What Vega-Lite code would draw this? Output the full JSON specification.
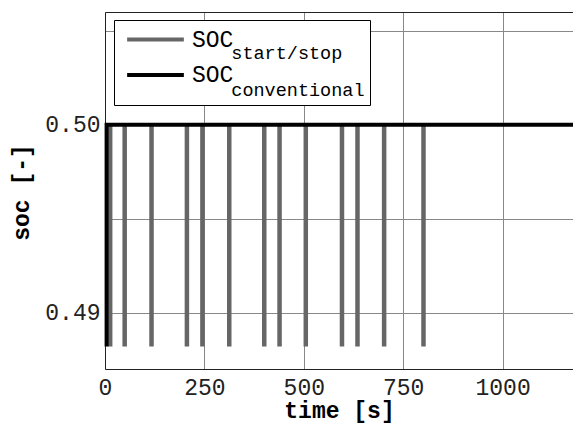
{
  "$schema": "https://vega.github.io/schema/vega-lite/v6.json",
  "width": 468,
  "height": 357,
  "autosize": {"type": "none"},
  "padding": {"left": 105, "top": 12, "right": 0, "bottom": 55},
  "background": "white",
  "view": {"stroke": null},
  "config": {
    "axis": {
      "labelFont": "Liberation Mono",
      "labelFontSize": 23,
      "labelColor": "#222",
      "titleFont": "Liberation Mono",
      "titleFontSize": 23,
      "titleFontWeight": "bold",
      "titleColor": "#000",
      "gridColor": "#888",
      "gridOpacity": 1,
      "gridWidth": 1,
      "ticks": false,
      "tickSize": 0,
      "domainColor": "#222",
      "domainWidth": 1
    }
  },
  "datasets": {
    "startstop": [
      {"time": 13, "soc_max": 0.5, "soc_min": 0.4882},
      {"time": 49.5, "soc_max": 0.5, "soc_min": 0.4882},
      {"time": 117, "soc_max": 0.5, "soc_min": 0.4882},
      {"time": 206, "soc_max": 0.5, "soc_min": 0.4882},
      {"time": 245, "soc_max": 0.5, "soc_min": 0.4882},
      {"time": 312.5, "soc_max": 0.5, "soc_min": 0.4882},
      {"time": 400.5, "soc_max": 0.5, "soc_min": 0.4882},
      {"time": 439, "soc_max": 0.5, "soc_min": 0.4882},
      {"time": 505, "soc_max": 0.5, "soc_min": 0.4882},
      {"time": 596, "soc_max": 0.5, "soc_min": 0.4882},
      {"time": 635, "soc_max": 0.5, "soc_min": 0.4882},
      {"time": 702, "soc_max": 0.5, "soc_min": 0.4882},
      {"time": 801, "soc_max": 0.5, "soc_min": 0.4882}
    ],
    "conventional": [
      {"i": 0, "time": 4, "soc": 0.4882},
      {"i": 1, "time": 4, "soc": 0.5},
      {"i": 2, "time": 1177, "soc": 0.5}
    ]
  },
  "resolve": {"axis": {"x": "independent"}},
  "layer": [
    {
      "data": {"name": "startstop"},
      "transform": [
        {"calculate": "'SOC_start/stop'", "as": "series"},
        {"calculate": "'start/stop'", "as": "sub"}
      ],
      "mark": {"type": "rule", "strokeWidth": 4.5, "strokeCap": "butt"},
      "encoding": {
        "x": {
          "field": "time",
          "type": "quantitative",
          "scale": {"domain": [0, 1177], "nice": false, "zero": false},
          "axis": {
            "title": "time [s]",
            "values": [0, 250, 500, 750, 1000],
            "format": "d",
            "grid": true,
            "labelPadding": 7,
            "titleBaseline": "alphabetic",
            "titleY": 48.5,
            "labelFlush": false,
            "labelOverlap": false
          }
        },
        "y": {
          "field": "soc_max",
          "type": "quantitative",
          "scale": {"domain": [0.487, 0.506], "nice": false, "zero": false},
          "axis": {
            "title": "soc [-]",
            "values": [0.49, 0.495, 0.5, 0.505],
            "labelExpr": "datum.value == 0.49 || datum.value == 0.5 ? format(datum.value, '.2f') : ''",
            "grid": true,
            "labelPadding": 5,
            "titleX": -77,
            "titleY": 180,
            "titleBaseline": "alphabetic",
            "labelFlush": false,
            "labelOverlap": false
          }
        },
        "y2": {"field": "soc_min"},
        "color": {
          "field": "series",
          "type": "nominal",
          "scale": {"domain": ["SOC_start/stop", "SOC_conventional"], "range": ["#666666", "#000000"]},
          "legend": {
            "orient": "none",
            "legendX": 37,
            "legendY": 14,
            "title": null,
            "symbolType": "M-2.5,0H2.5",
            "symbolSize": 515,
            "symbolStrokeWidth": 4,
            "labelExpr": "'SOC'",
            "labelFont": "Liberation Mono",
            "labelFontSize": 23,
            "labelColor": "#000",
            "labelOffset": 23,
            "rowPadding": 9.5,
            "padding": 0,
            "zindex": 2
          }
        },
        "opacity": {
          "field": "sub",
          "type": "nominal",
          "scale": {"domain": ["start/stop", "conventional"], "range": [1, 1]},
          "legend": {
            "orient": "none",
            "legendX": 9,
            "legendY": 8,
            "title": null,
            "symbolType": "M0,0",
            "symbolSize": 1310,
            "symbolStrokeWidth": 0,
            "symbolFillColor": "transparent",
            "symbolStrokeColor": "transparent",
            "labelFont": "Liberation Mono",
            "labelFontSize": 18.5,
            "labelColor": "#000",
            "labelBaseline": "top",
            "labelOffset": 75.3,
            "rowPadding": 0.7,
            "padding": 5,
            "strokeColor": "#000",
            "fillColor": "white",
            "zindex": 1
          }
        }
      }
    },
    {
      "data": {"name": "conventional"},
      "transform": [
        {"calculate": "'SOC_conventional'", "as": "series"},
        {"calculate": "'conventional'", "as": "sub"}
      ],
      "mark": {"type": "line", "strokeWidth": 4, "strokeCap": "butt", "strokeJoin": "miter"},
      "encoding": {
        "x": {
          "field": "time",
          "type": "quantitative",
          "axis": {
            "orient": "top",
            "title": null,
            "labels": false,
            "grid": false,
            "ticks": false,
            "domainColor": "#222"
          }
        },
        "y": {"field": "soc", "type": "quantitative"},
        "order": {"field": "i", "type": "quantitative"},
        "color": {"field": "series", "type": "nominal"},
        "opacity": {"field": "sub", "type": "nominal"}
      }
    }
  ]
}
